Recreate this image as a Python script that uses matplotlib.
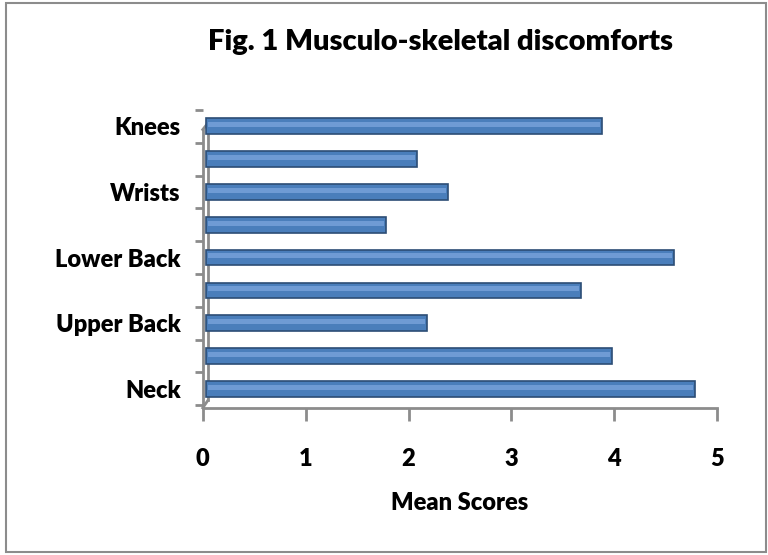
import matplotlib.pyplot as plt
from matplotlib.patches import Rectangle
import numpy as np

plt.rcParams['font.family'] = ['Lato', 'DejaVu Sans']

# categories bottom -> top (only every other one is labelled in the original)
categories = ['Neck', '', 'Upper Back', '', 'Lower Back', '', 'Wrists', '', 'Knees']
scores = [4.75, 3.95, 2.15, 3.65, 4.55, 1.75, 2.35, 2.05, 3.85]
xticks = [0, 1, 2, 3, 4, 5]

fig = plt.figure(figsize=(7.68, 5.55), dpi=100)
fig.patches.append(Rectangle((0.008, 0.006), 0.99, 0.988, transform=fig.transFigure,
                             fill=False, edgecolor='#8c8c8c', linewidth=1.5))

ax = fig.add_axes([0.264, 0.265, 0.67, 0.537])
grey = '#8c8c8c'
y = np.arange(len(scores))
ax.barh(y, scores, height=0.48, left=0.03, color='#4a7ebb', edgecolor='#2c4d75', linewidth=1.2, zorder=3)
# lighter highlight strip to get the cylinder look
ax.barh(y + 0.05, np.array(scores) - 0.04, height=0.15, left=0.05, color='#6f9bd4', linewidth=0, zorder=4)

ax.set_xlim(0, 5)
ax.set_ylim(-0.58, 8.45)
ax.set_xticks(xticks)
ax.set_xticklabels([str(t) for t in xticks], fontsize=17, fontweight='heavy')
ax.set_yticks(y)
ax.set_yticklabels(categories, fontsize=17, fontweight='heavy')
ax.tick_params(axis='y', length=0, pad=16)
ax.tick_params(axis='x', length=9, width=2, color=grey, pad=20, direction='out')

# ticks between categories on the wall
ax.set_yticks(np.arange(-0.5, len(scores)), minor=True)
ax.tick_params(axis='y', which='minor', length=6, width=2, color=grey)

for side in ['top', 'right']:
    ax.spines[side].set_visible(False)
ax.spines['left'].set_color(grey)
ax.spines['left'].set_linewidth(2)
ax.spines['left'].set_bounds(-0.58, 7.9)
ax.spines['bottom'].set_color(grey)
ax.spines['bottom'].set_linewidth(2)
# back edge of the wall and floor corner
ax.plot([0.05, 0.05], [-0.35, 8.1], color=grey, linewidth=2, clip_on=False, zorder=2)
ax.plot([0, 0.05], [-0.58, -0.35], color=grey, linewidth=2, clip_on=False, zorder=2)
ax.plot([0, 0.05], [7.9, 8.1], color=grey, linewidth=2, clip_on=False, zorder=2)

ax.set_xlabel('Mean Scores', fontsize=17, fontweight='heavy', labelpad=16)
fig.text(0.573, 0.925, 'Fig. 1 Musculo-skeletal discomforts', ha='center', va='center',
         fontsize=21, fontweight='heavy')

fig.savefig('out.png', dpi=100)
